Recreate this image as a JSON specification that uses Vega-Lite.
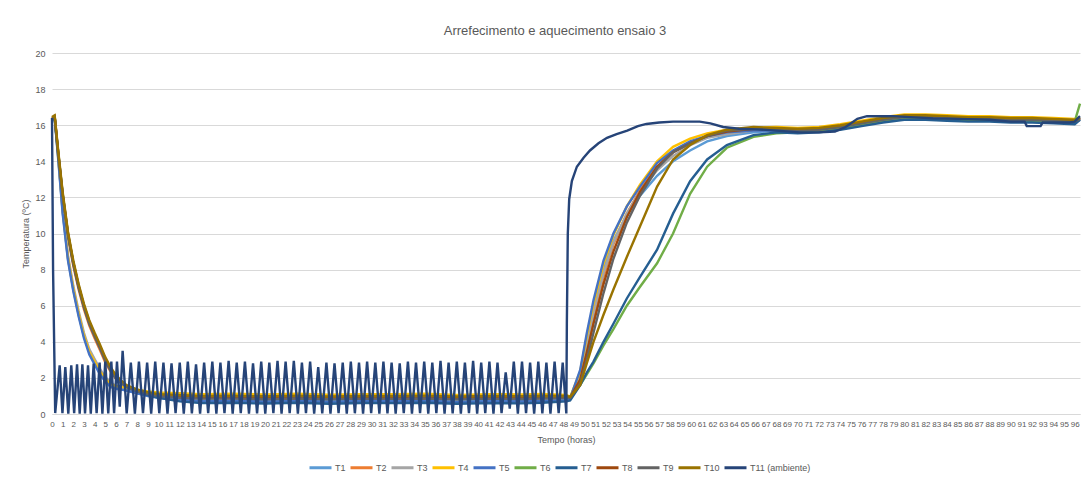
{
  "$schema": "https://vega.github.io/schema/vega-lite/v6.json",
  "autosize": {"type": "none"},
  "padding": {"left": 52, "top": 53, "right": 11, "bottom": 63},
  "width": 1028,
  "height": 361,
  "background": "white",
  "config": {"font": "Liberation Sans", "view": {"stroke": null}},
  "title": {"text": "Arrefecimento e aquecimento ensaio 3", "fontSize": 13, "font": "Liberation Sans", "fontWeight": "normal", "color": "#595959", "offset": 11, "dx": -11},
  "datasets": {
    "s": [
      {"t":0,"T1":16.3,"T2":16.3,"T3":16.3,"T4":16.35,"T5":16.3,"T6":16.35,"T7":16.3,"T8":16.4,"T9":16.35,"T10":16.45},
      {"t":0.25,"T1":16.4,"T2":16.45,"T3":16.4,"T4":16.45,"T5":16.4,"T6":16.45,"T7":16.4,"T8":16.5,"T9":16.45,"T10":16.55},
      {"t":0.6,"T1":14.1,"T2":14.3,"T3":14.2,"T4":14.15,"T5":14.0,"T6":14.4,"T7":14.35,"T8":14.4,"T9":14.3,"T10":14.5},
      {"t":1.0,"T1":11.2,"T2":12.0,"T3":11.4,"T4":11.3,"T5":11.1,"T6":12.2,"T7":12.15,"T8":12.2,"T9":12.1,"T10":12.3},
      {"t":1.5,"T1":8.6,"T2":9.8,"T3":8.8,"T4":8.65,"T5":8.5,"T6":10.0,"T7":9.95,"T8":10.0,"T9":9.9,"T10":10.1},
      {"t":2.0,"T1":6.9,"T2":8.2,"T3":7.1,"T4":6.95,"T5":6.8,"T6":8.4,"T7":8.35,"T8":8.4,"T9":8.3,"T10":8.5},
      {"t":2.5,"T1":5.5,"T2":6.9,"T3":5.7,"T4":5.55,"T5":5.4,"T6":7.1,"T7":7.05,"T8":7.1,"T9":7.0,"T10":7.2},
      {"t":3.0,"T1":4.3,"T2":5.8,"T3":4.5,"T4":4.35,"T5":4.2,"T6":6.0,"T7":5.95,"T8":6.0,"T9":5.9,"T10":6.1},
      {"t":3.5,"T1":3.4,"T2":4.9,"T3":3.6,"T4":3.45,"T5":3.3,"T6":5.1,"T7":5.05,"T8":5.1,"T9":5.0,"T10":5.2},
      {"t":4.0,"T1":2.85,"T2":4.2,"T3":3.05,"T4":2.9,"T5":2.75,"T6":4.4,"T7":4.35,"T8":4.4,"T9":4.3,"T10":4.5},
      {"t":4.5,"T1":2.3,"T2":3.55,"T3":2.5,"T4":2.35,"T5":2.2,"T6":3.75,"T7":3.7,"T8":3.75,"T9":3.65,"T10":3.85},
      {"t":5.0,"T1":1.9,"T2":2.85,"T3":2.05,"T4":1.95,"T5":1.8,"T6":3.05,"T7":3.0,"T8":3.05,"T9":2.95,"T10":3.15},
      {"t":5.5,"T1":1.6,"T2":2.35,"T3":1.75,"T4":1.65,"T5":1.5,"T6":2.5,"T7":2.45,"T8":2.5,"T9":2.4,"T10":2.6},
      {"t":6.0,"T1":1.45,"T2":1.95,"T3":1.55,"T4":1.55,"T5":1.4,"T6":2.05,"T7":2.0,"T8":2.05,"T9":1.95,"T10":2.15},
      {"t":6.5,"T1":1.4,"T2":1.7,"T3":1.45,"T4":1.5,"T5":1.35,"T6":1.8,"T7":1.75,"T8":1.8,"T9":1.7,"T10":1.85},
      {"t":7.0,"T1":1.3,"T2":1.5,"T3":1.4,"T4":1.45,"T5":1.3,"T6":1.55,"T7":1.5,"T8":1.55,"T9":1.5,"T10":1.6},
      {"t":8,"T1":1.15,"T2":1.3,"T3":1.25,"T4":1.35,"T5":1.15,"T6":1.35,"T7":1.25,"T8":1.3,"T9":1.25,"T10":1.35},
      {"t":9,"T1":1.05,"T2":1.15,"T3":1.1,"T4":1.25,"T5":1.0,"T6":1.2,"T7":1.05,"T8":1.15,"T9":1.1,"T10":1.2},
      {"t":10,"T1":0.95,"T2":1.05,"T3":1.0,"T4":1.2,"T5":0.9,"T6":1.1,"T7":0.9,"T8":1.05,"T9":1.0,"T10":1.1},
      {"t":12,"T1":0.85,"T2":0.95,"T3":0.9,"T4":1.15,"T5":0.8,"T6":1.0,"T7":0.7,"T8":0.95,"T9":0.9,"T10":1.05},
      {"t":14,"T1":0.75,"T2":0.9,"T3":0.85,"T4":1.1,"T5":0.7,"T6":0.95,"T7":0.6,"T8":0.9,"T9":0.85,"T10":1.0},
      {"t":17,"T1":0.8,"T2":0.92,"T3":0.88,"T4":1.12,"T5":0.72,"T6":0.97,"T7":0.62,"T8":0.92,"T9":0.85,"T10":1.02},
      {"t":20,"T1":0.74,"T2":0.88,"T3":0.84,"T4":1.08,"T5":0.68,"T6":0.93,"T7":0.58,"T8":0.88,"T9":0.82,"T10":0.98},
      {"t":23,"T1":0.78,"T2":0.91,"T3":0.87,"T4":1.12,"T5":0.72,"T6":0.96,"T7":0.62,"T8":0.91,"T9":0.86,"T10":1.02},
      {"t":26,"T1":0.73,"T2":0.87,"T3":0.83,"T4":1.07,"T5":0.67,"T6":0.92,"T7":0.57,"T8":0.87,"T9":0.82,"T10":0.97},
      {"t":29,"T1":0.77,"T2":0.9,"T3":0.86,"T4":1.1,"T5":0.71,"T6":0.95,"T7":0.61,"T8":0.9,"T9":0.85,"T10":1.0},
      {"t":32,"T1":0.75,"T2":0.9,"T3":0.85,"T4":1.1,"T5":0.7,"T6":0.95,"T7":0.6,"T8":0.9,"T9":0.84,"T10":1.0},
      {"t":35,"T1":0.78,"T2":0.92,"T3":0.87,"T4":1.12,"T5":0.72,"T6":0.96,"T7":0.62,"T8":0.92,"T9":0.86,"T10":1.02},
      {"t":38,"T1":0.72,"T2":0.87,"T3":0.82,"T4":1.06,"T5":0.66,"T6":0.91,"T7":0.57,"T8":0.87,"T9":0.81,"T10":0.97},
      {"t":41,"T1":0.76,"T2":0.9,"T3":0.86,"T4":1.1,"T5":0.7,"T6":0.95,"T7":0.6,"T8":0.9,"T9":0.85,"T10":1.0},
      {"t":44,"T1":0.74,"T2":0.88,"T3":0.84,"T4":1.09,"T5":0.69,"T6":0.94,"T7":0.59,"T8":0.89,"T9":0.83,"T10":0.99},
      {"t":46,"T1":0.77,"T2":0.91,"T3":0.87,"T4":1.11,"T5":0.71,"T6":0.96,"T7":0.62,"T8":0.91,"T9":0.86,"T10":1.01},
      {"t":48.3,"T1":0.8,"T2":0.9,"T3":0.88,"T4":1.05,"T5":0.75,"T6":0.95,"T7":0.7,"T8":0.9,"T9":0.88,"T10":1.0},
      {"t":48.64,"T1":0.9,"T2":0.9,"T3":0.9,"T4":0.95,"T5":0.87,"T6":0.95,"T7":0.75,"T8":0.9,"T9":0.9,"T10":0.95},
      {"t":49.58,"T1":2.2,"T2":2.0,"T3":2.1,"T4":2.35,"T5":2.44,"T6":1.6,"T7":1.6,"T8":1.9,"T9":1.7,"T10":1.6},
      {"t":50.2,"T1":4.0,"T2":3.7,"T3":3.9,"T4":4.3,"T5":4.47,"T6":2.2,"T7":2.3,"T8":3.4,"T9":3.0,"T10":2.8},
      {"t":50.83,"T1":5.8,"T2":5.4,"T3":5.6,"T4":6.1,"T5":6.3,"T6":2.8,"T7":2.9,"T8":5.0,"T9":4.5,"T10":4.0},
      {"t":51.77,"T1":8.0,"T2":7.6,"T3":7.8,"T4":8.3,"T5":8.5,"T6":3.8,"T7":4.0,"T8":7.2,"T9":6.7,"T10":5.5},
      {"t":52.7,"T1":9.6,"T2":9.4,"T3":9.5,"T4":9.9,"T5":10.0,"T6":4.7,"T7":5.0,"T8":9.0,"T9":8.6,"T10":6.9},
      {"t":53.96,"T1":11.0,"T2":11.1,"T3":11.1,"T4":11.5,"T5":11.5,"T6":6.0,"T7":6.4,"T8":10.9,"T9":10.6,"T10":8.7},
      {"t":55.2,"T1":12.1,"T2":12.4,"T3":12.3,"T4":12.7,"T5":12.6,"T6":7.05,"T7":7.6,"T8":12.3,"T9":12.1,"T10":10.4},
      {"t":56.8,"T1":13.2,"T2":13.7,"T3":13.5,"T4":14.0,"T5":13.9,"T6":8.35,"T7":9.1,"T8":13.7,"T9":13.6,"T10":12.6},
      {"t":58.3,"T1":14.0,"T2":14.5,"T3":14.3,"T4":14.8,"T5":14.6,"T6":10.0,"T7":11.1,"T8":14.5,"T9":14.5,"T10":14.1},
      {"t":59.9,"T1":14.6,"T2":15.0,"T3":14.9,"T4":15.25,"T5":15.1,"T6":12.2,"T7":12.9,"T8":15.0,"T9":15.0,"T10":14.9},
      {"t":61.5,"T1":15.1,"T2":15.4,"T3":15.3,"T4":15.55,"T5":15.4,"T6":13.7,"T7":14.1,"T8":15.4,"T9":15.4,"T10":15.45},
      {"t":63.35,"T1":15.4,"T2":15.6,"T3":15.5,"T4":15.75,"T5":15.6,"T6":14.75,"T7":14.9,"T8":15.65,"T9":15.7,"T10":15.75},
      {"t":65.85,"T1":15.6,"T2":15.75,"T3":15.7,"T4":15.85,"T5":15.7,"T6":15.35,"T7":15.45,"T8":15.8,"T9":15.8,"T10":15.9},
      {"t":68,"T1":15.7,"T2":15.75,"T3":15.75,"T4":15.9,"T5":15.7,"T6":15.55,"T7":15.6,"T8":15.8,"T9":15.75,"T10":15.85},
      {"t":70,"T1":15.65,"T2":15.7,"T3":15.7,"T4":15.85,"T5":15.65,"T6":15.6,"T7":15.55,"T8":15.75,"T9":15.7,"T10":15.8},
      {"t":72,"T1":15.7,"T2":15.75,"T3":15.75,"T4":15.9,"T5":15.7,"T6":15.65,"T7":15.6,"T8":15.8,"T9":15.75,"T10":15.85},
      {"t":74,"T1":15.85,"T2":15.9,"T3":15.9,"T4":16.05,"T5":15.85,"T6":15.8,"T7":15.75,"T8":15.95,"T9":15.9,"T10":16.0},
      {"t":76,"T1":16.05,"T2":16.1,"T3":16.1,"T4":16.25,"T5":16.05,"T6":16.0,"T7":15.95,"T8":16.15,"T9":16.1,"T10":16.2},
      {"t":78,"T1":16.25,"T2":16.3,"T3":16.3,"T4":16.45,"T5":16.25,"T6":16.2,"T7":16.15,"T8":16.35,"T9":16.3,"T10":16.4},
      {"t":80,"T1":16.4,"T2":16.45,"T3":16.45,"T4":16.6,"T5":16.4,"T6":16.35,"T7":16.3,"T8":16.5,"T9":16.45,"T10":16.55},
      {"t":82,"T1":16.4,"T2":16.45,"T3":16.45,"T4":16.6,"T5":16.4,"T6":16.35,"T7":16.3,"T8":16.5,"T9":16.45,"T10":16.55},
      {"t":84,"T1":16.35,"T2":16.4,"T3":16.4,"T4":16.55,"T5":16.35,"T6":16.3,"T7":16.25,"T8":16.45,"T9":16.4,"T10":16.5},
      {"t":86,"T1":16.3,"T2":16.35,"T3":16.35,"T4":16.5,"T5":16.3,"T6":16.25,"T7":16.2,"T8":16.4,"T9":16.35,"T10":16.45},
      {"t":88,"T1":16.3,"T2":16.35,"T3":16.35,"T4":16.5,"T5":16.3,"T6":16.25,"T7":16.2,"T8":16.4,"T9":16.35,"T10":16.45},
      {"t":90,"T1":16.25,"T2":16.3,"T3":16.3,"T4":16.45,"T5":16.25,"T6":16.2,"T7":16.15,"T8":16.35,"T9":16.3,"T10":16.4},
      {"t":92,"T1":16.25,"T2":16.3,"T3":16.3,"T4":16.45,"T5":16.25,"T6":16.2,"T7":16.15,"T8":16.35,"T9":16.3,"T10":16.4},
      {"t":94,"T1":16.2,"T2":16.25,"T3":16.25,"T4":16.4,"T5":16.2,"T6":16.15,"T7":16.1,"T8":16.3,"T9":16.25,"T10":16.35},
      {"t":96,"T1":16.15,"T2":16.2,"T3":16.2,"T4":16.35,"T5":16.15,"T6":16.2,"T7":16.05,"T8":16.25,"T9":16.2,"T10":16.3},
      {"t":96.5,"T1":16.3,"T2":16.35,"T3":16.3,"T4":16.45,"T5":16.4,"T6":17.2,"T7":16.3,"T8":16.4,"T9":16.35,"T10":16.4}
    ],
    "a": [
      {"t":0,"T11":16.4},{"t":0.1,"T11":8},{"t":0.3,"T11":0.05},{"t":0.72,"T11":2.7},{"t":0.98,"T11":0.05},
      {"t":1.25,"T11":2.6},{"t":1.53,"T11":0.02},{"t":1.81,"T11":2.7},{"t":2.08,"T11":0.05},{"t":2.35,"T11":2.75},
      {"t":2.6,"T11":0.02},{"t":2.85,"T11":2.75},{"t":3.1,"T11":0.03},{"t":3.38,"T11":2.7},{"t":3.64,"T11":0.02},
      {"t":3.91,"T11":2.8},{"t":4.19,"T11":0.05},{"t":4.47,"T11":2.85},{"t":4.73,"T11":0.02},{"t":5,"T11":2.9},
      {"t":5.28,"T11":0.03},{"t":5.57,"T11":2.9},{"t":5.83,"T11":0.05},{"t":6.1,"T11":2.9},{"t":6.36,"T11":0.4},
      {"t":6.63,"T11":3.5},{"t":7.01,"T11":0.03},
      {"t":7.40,"T11":2.85},{"t":7.78,"T11":0.02},{"t":8.16,"T11":2.9},{"t":8.54,"T11":0.05},
      {"t":8.93,"T11":2.85},{"t":9.31,"T11":0.02},{"t":9.69,"T11":2.9},{"t":10.07,"T11":0.04},
      {"t":10.46,"T11":2.85},{"t":10.84,"T11":0.02},{"t":11.22,"T11":2.8},{"t":11.60,"T11":0.05},
      {"t":11.99,"T11":2.85},{"t":12.37,"T11":0.02},{"t":12.75,"T11":2.9},{"t":13.13,"T11":0.03},
      {"t":13.52,"T11":2.75},{"t":13.90,"T11":0.02},{"t":14.28,"T11":2.85},{"t":14.66,"T11":0.05},
      {"t":15.05,"T11":2.9},{"t":15.43,"T11":0.02},{"t":15.81,"T11":2.85},{"t":16.19,"T11":0.04},
      {"t":16.58,"T11":2.95},{"t":16.96,"T11":0.02},{"t":17.34,"T11":2.85},{"t":17.72,"T11":0.05},
      {"t":18.11,"T11":2.9},{"t":18.49,"T11":0.02},{"t":18.87,"T11":2.8},{"t":19.25,"T11":0.03},
      {"t":19.64,"T11":2.9},{"t":20.02,"T11":0.02},{"t":20.40,"T11":2.85},{"t":20.78,"T11":0.05},
      {"t":21.17,"T11":2.95},{"t":21.55,"T11":0.02},{"t":21.93,"T11":2.9},{"t":22.31,"T11":0.04},
      {"t":22.70,"T11":2.95},{"t":23.08,"T11":0.02},{"t":23.46,"T11":2.85},{"t":23.84,"T11":0.05},
      {"t":24.23,"T11":2.9},{"t":24.61,"T11":0.02},{"t":24.99,"T11":2.6},{"t":25.37,"T11":0.03},
      {"t":25.76,"T11":2.85},{"t":26.14,"T11":0.02},{"t":26.52,"T11":2.8},{"t":26.90,"T11":0.05},
      {"t":27.29,"T11":2.85},{"t":27.67,"T11":0.02},{"t":28.05,"T11":2.9},{"t":28.43,"T11":0.04},
      {"t":28.82,"T11":2.85},{"t":29.20,"T11":0.02},{"t":29.58,"T11":2.9},{"t":29.96,"T11":0.05},
      {"t":30.35,"T11":2.85},{"t":30.73,"T11":0.02},{"t":31.11,"T11":2.9},{"t":31.49,"T11":0.03},
      {"t":31.88,"T11":2.85},{"t":32.26,"T11":0.02},{"t":32.64,"T11":2.8},{"t":33.02,"T11":0.05},
      {"t":33.41,"T11":2.9},{"t":33.79,"T11":0.02},{"t":34.17,"T11":2.85},{"t":34.55,"T11":0.04},
      {"t":34.94,"T11":2.9},{"t":35.32,"T11":0.02},{"t":35.70,"T11":2.85},{"t":36.08,"T11":0.05},
      {"t":36.47,"T11":2.95},{"t":36.85,"T11":0.02},{"t":37.23,"T11":2.85},{"t":37.61,"T11":0.03},
      {"t":38.00,"T11":2.9},{"t":38.38,"T11":0.02},{"t":38.76,"T11":2.85},{"t":39.14,"T11":0.05},
      {"t":39.53,"T11":2.95},{"t":39.91,"T11":0.02},{"t":40.29,"T11":2.85},{"t":40.67,"T11":0.04},
      {"t":41.06,"T11":2.9},{"t":41.44,"T11":0.02},{"t":41.82,"T11":2.85},{"t":42.20,"T11":0.05},
      {"t":42.59,"T11":2.3},{"t":42.97,"T11":0.3},{"t":43.35,"T11":2.9},{"t":43.73,"T11":0.02},
      {"t":44.12,"T11":2.9},{"t":44.50,"T11":0.05},{"t":44.88,"T11":2.85},{"t":45.26,"T11":0.02},
      {"t":45.65,"T11":2.9},{"t":46.03,"T11":0.03},{"t":46.41,"T11":2.85},{"t":46.79,"T11":0.02},
      {"t":47.18,"T11":2.9},{"t":47.56,"T11":0.05},{"t":47.94,"T11":2.85},{"t":48.28,"T11":0.03},
      {"t":48.33,"T11":5},{"t":48.42,"T11":10},{"t":48.55,"T11":11.9},{"t":48.8,"T11":12.9},{"t":49.27,"T11":13.7},
      {"t":49.9,"T11":14.2},{"t":50.5,"T11":14.6},{"t":51.3,"T11":15},{"t":52.1,"T11":15.3},{"t":53,"T11":15.5},
      {"t":54,"T11":15.7},{"t":55,"T11":15.95},{"t":55.8,"T11":16.07},{"t":57,"T11":16.15},{"t":58.3,"T11":16.2},
      {"t":59.5,"T11":16.2},{"t":60.8,"T11":16.2},{"t":61.8,"T11":16.1},{"t":63,"T11":15.9},{"t":64.5,"T11":15.8},
      {"t":66.2,"T11":15.77},{"t":68,"T11":15.7},{"t":70.2,"T11":15.6},{"t":72,"T11":15.6},{"t":73.5,"T11":15.65},
      {"t":74.5,"T11":15.9},{"t":75.6,"T11":16.35},{"t":76.5,"T11":16.5},{"t":79,"T11":16.5},{"t":80.5,"T11":16.45},
      {"t":82.7,"T11":16.38},{"t":85,"T11":16.35},{"t":88,"T11":16.3},{"t":90,"T11":16.2},{"t":91.3,"T11":16.2},
      {"t":91.5,"T11":15.95},{"t":92.8,"T11":15.95},{"t":93,"T11":16.15},{"t":95.5,"T11":16.15},{"t":96,"T11":16.2},
      {"t":96.5,"T11":16.5}
    ]
  },
  "encoding": {
    "x": {"field": "t", "type": "quantitative",
      "scale": {"domain": [0, 96.5], "nice": false, "zero": false},
      "axis": {"title": "Tempo (horas)", "values": [0,1,2,3,4,5,6,7,8,9,10,11,12,13,14,15,16,17,18,19,20,21,22,23,24,25,26,27,28,29,30,31,32,33,34,35,36,37,38,39,40,41,42,43,44,45,46,47,48,49,50,51,52,53,54,55,56,57,58,59,60,61,62,63,64,65,66,67,68,69,70,71,72,73,74,75,76,77,78,79,80,81,82,83,84,85,86,87,88,89,90,91,92,93,94,95,96],
        "format": "d", "grid": false, "ticks": false, "domainColor": "#d9d9d9", "domainWidth": 1,
        "labelFontSize": 8, "labelColor": "#595959", "labelOverlap": false, "labelFlush": false, "labelPadding": 6,
        "titleFontSize": 9, "titleColor": "#595959", "titleFontWeight": "normal", "titlePadding": 7}},
    "y": {"field": "v", "type": "quantitative",
      "scale": {"domain": [0, 20], "nice": false},
      "axis": {"title": "Temperatura (ºC)", "values": [0,2,4,6,8,10,12,14,16,18,20], "grid": true, "gridColor": "#d9d9d9", "gridWidth": 1,
        "domain": false, "ticks": false, "labelFontSize": 9, "labelColor": "#595959", "labelPadding": 7,
        "titleFontSize": 9, "titleColor": "#595959", "titleFontWeight": "normal", "titlePadding": 4}},
    "color": {"field": "serie", "type": "nominal",
      "scale": {"domain": ["T1","T2","T3","T4","T5","T6","T7","T8","T9","T10","T11"],
        "range": ["#5B9BD5","#ED7D31","#A5A5A5","#FFC000","#4472C4","#70AD47","#255E91","#9E480E","#636363","#997300","#264478"]},
      "legend": {"title": null, "orient": "none", "legendX": 256, "legendY": 402, "direction": "horizontal",
        "symbolType": "stroke", "symbolSize": 484, "symbolStrokeWidth": 3, "labelFontSize": 9, "labelColor": "#595959",
        "labelOffset": 2, "columnPadding": -2,
        "labelExpr": "datum.label == 'T11' ? 'T11 (ambiente)' : datum.label"}}
  },
  "layer": [
    {"data": {"name": "s"},
     "transform": [{"fold": ["T1","T2","T3","T4","T5","T6","T7","T8","T9","T10"], "as": ["serie", "v"]}],
     "mark": {"type": "line", "strokeWidth": 2.4}},
    {"data": {"name": "a"},
     "transform": [{"fold": ["T11"], "as": ["serie", "v"]}],
     "mark": {"type": "line", "strokeWidth": 2.4}}
  ]
}
